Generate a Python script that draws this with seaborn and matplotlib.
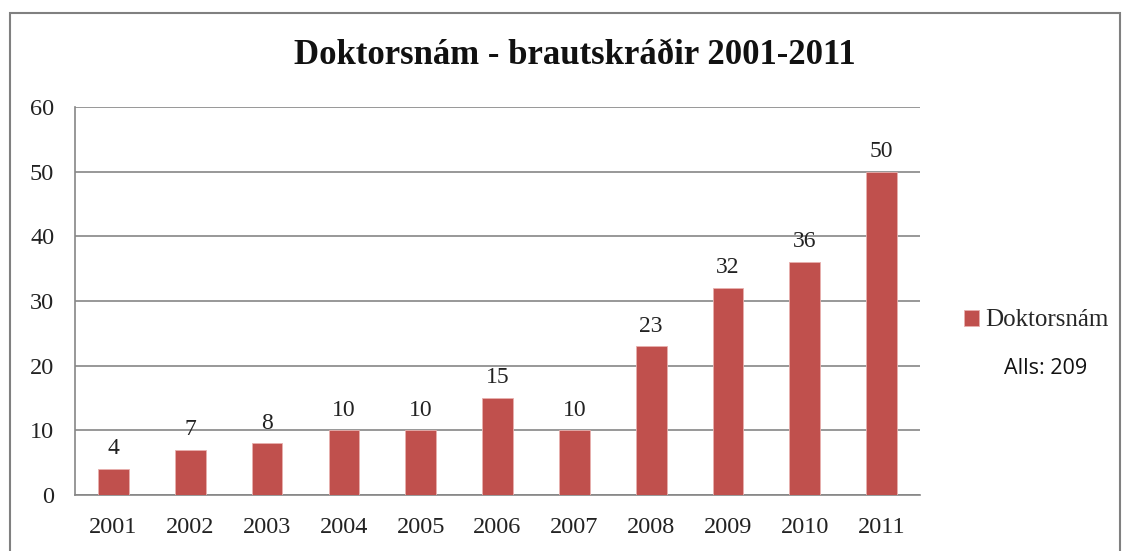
"""
Doktorsnám - brautskráðir 2001-2011 (bar chart)
"""
import matplotlib
matplotlib.use('Agg')
import matplotlib.pyplot as plt
from matplotlib.patches import Rectangle
import numpy as np
import pandas as pd
import seaborn as sns

# data
years = ['2001', '2002', '2003', '2004', '2005', '2006',
         '2007', '2008', '2009', '2010', '2011']
graduates = [4, 7, 8, 10, 10, 15, 10, 23, 32, 36, 50]
series_name = 'Doktorsnám'
total_label = 'Alls: 209'
title = 'Doktorsnám - brautskráðir 2001-2011'

bar_color = '#C0504D'
grid_color = '#868686'
serif = ['Liberation Serif', 'DejaVu Serif']

sns.set_style('white')
plt.rcParams['font.family'] = serif

df = pd.DataFrame({'year': years, 'count': graduates})

fig = plt.figure(figsize=(11.3, 5.51), dpi=100)
ax = fig.add_axes([75 / 1130, 1 - 495 / 551, 845 / 1130, 388 / 551])

sns.barplot(data=df, x='year', y='count', color=bar_color, width=0.4,
            saturation=1, ax=ax, label=series_name, zorder=3,
            edgecolor='#e8b0ae', linewidth=0.6)

ax.set_ylim(0, 60)
ax.set_xlim(-0.5, len(years) - 0.5)
ax.set_yticks(np.arange(0, 61, 10))
ax.yaxis.grid(True, color=grid_color, linewidth=1.2, zorder=0)
ax.set_axisbelow(True)
ax.set_xlabel('')
ax.set_ylabel('')

# ticks between categories on x axis
ax.set_xticks(np.arange(-0.5, len(years), 1.0), minor=True)
ax.tick_params(axis='x', which='major', length=0, labelsize=17.5, pad=16)
ax.tick_params(axis='x', which='minor', length=6, width=1.2,
               direction='out')
ax.tick_params(axis='y', length=7, width=1.2, labelsize=17.5, pad=8)
ax.tick_params(axis='both', which='both', color=grid_color,
               labelcolor='#222222')

for side in ['top', 'right']:
    ax.spines[side].set_visible(False)
for side in ['left', 'bottom']:
    ax.spines[side].set_color(grid_color)
    ax.spines[side].set_linewidth(1.2)

ax.bar_label(ax.containers[0], padding=7, fontsize=17, color='#222222')

fig.text(0.5085, 1 - 56 / 551, title, ha='center', va='center',
         fontsize=25, fontweight='bold', color='#111111', family=serif)

ax.legend(loc='center left', bbox_to_anchor=(1.025, 0.45), frameon=False,
          prop={'family': serif, 'size': 18}, handlelength=0.6,
          handleheight=0.6, handletextpad=0.25)
fig.text(1046 / 1130, 1 - 368 / 551, total_label, ha='center', va='center',
         fontsize=15.5, family=['Open Sans', 'DejaVu Sans'], color='#111111')

# outer chart border
fig.patches.append(Rectangle((10 / 1130, -0.1), 1110 / 1130, 1.1 - 13 / 551,
                             transform=fig.transFigure, fill=False,
                             edgecolor='#808080', linewidth=1.5))

fig.savefig('out.png', dpi=100, facecolor='white')
